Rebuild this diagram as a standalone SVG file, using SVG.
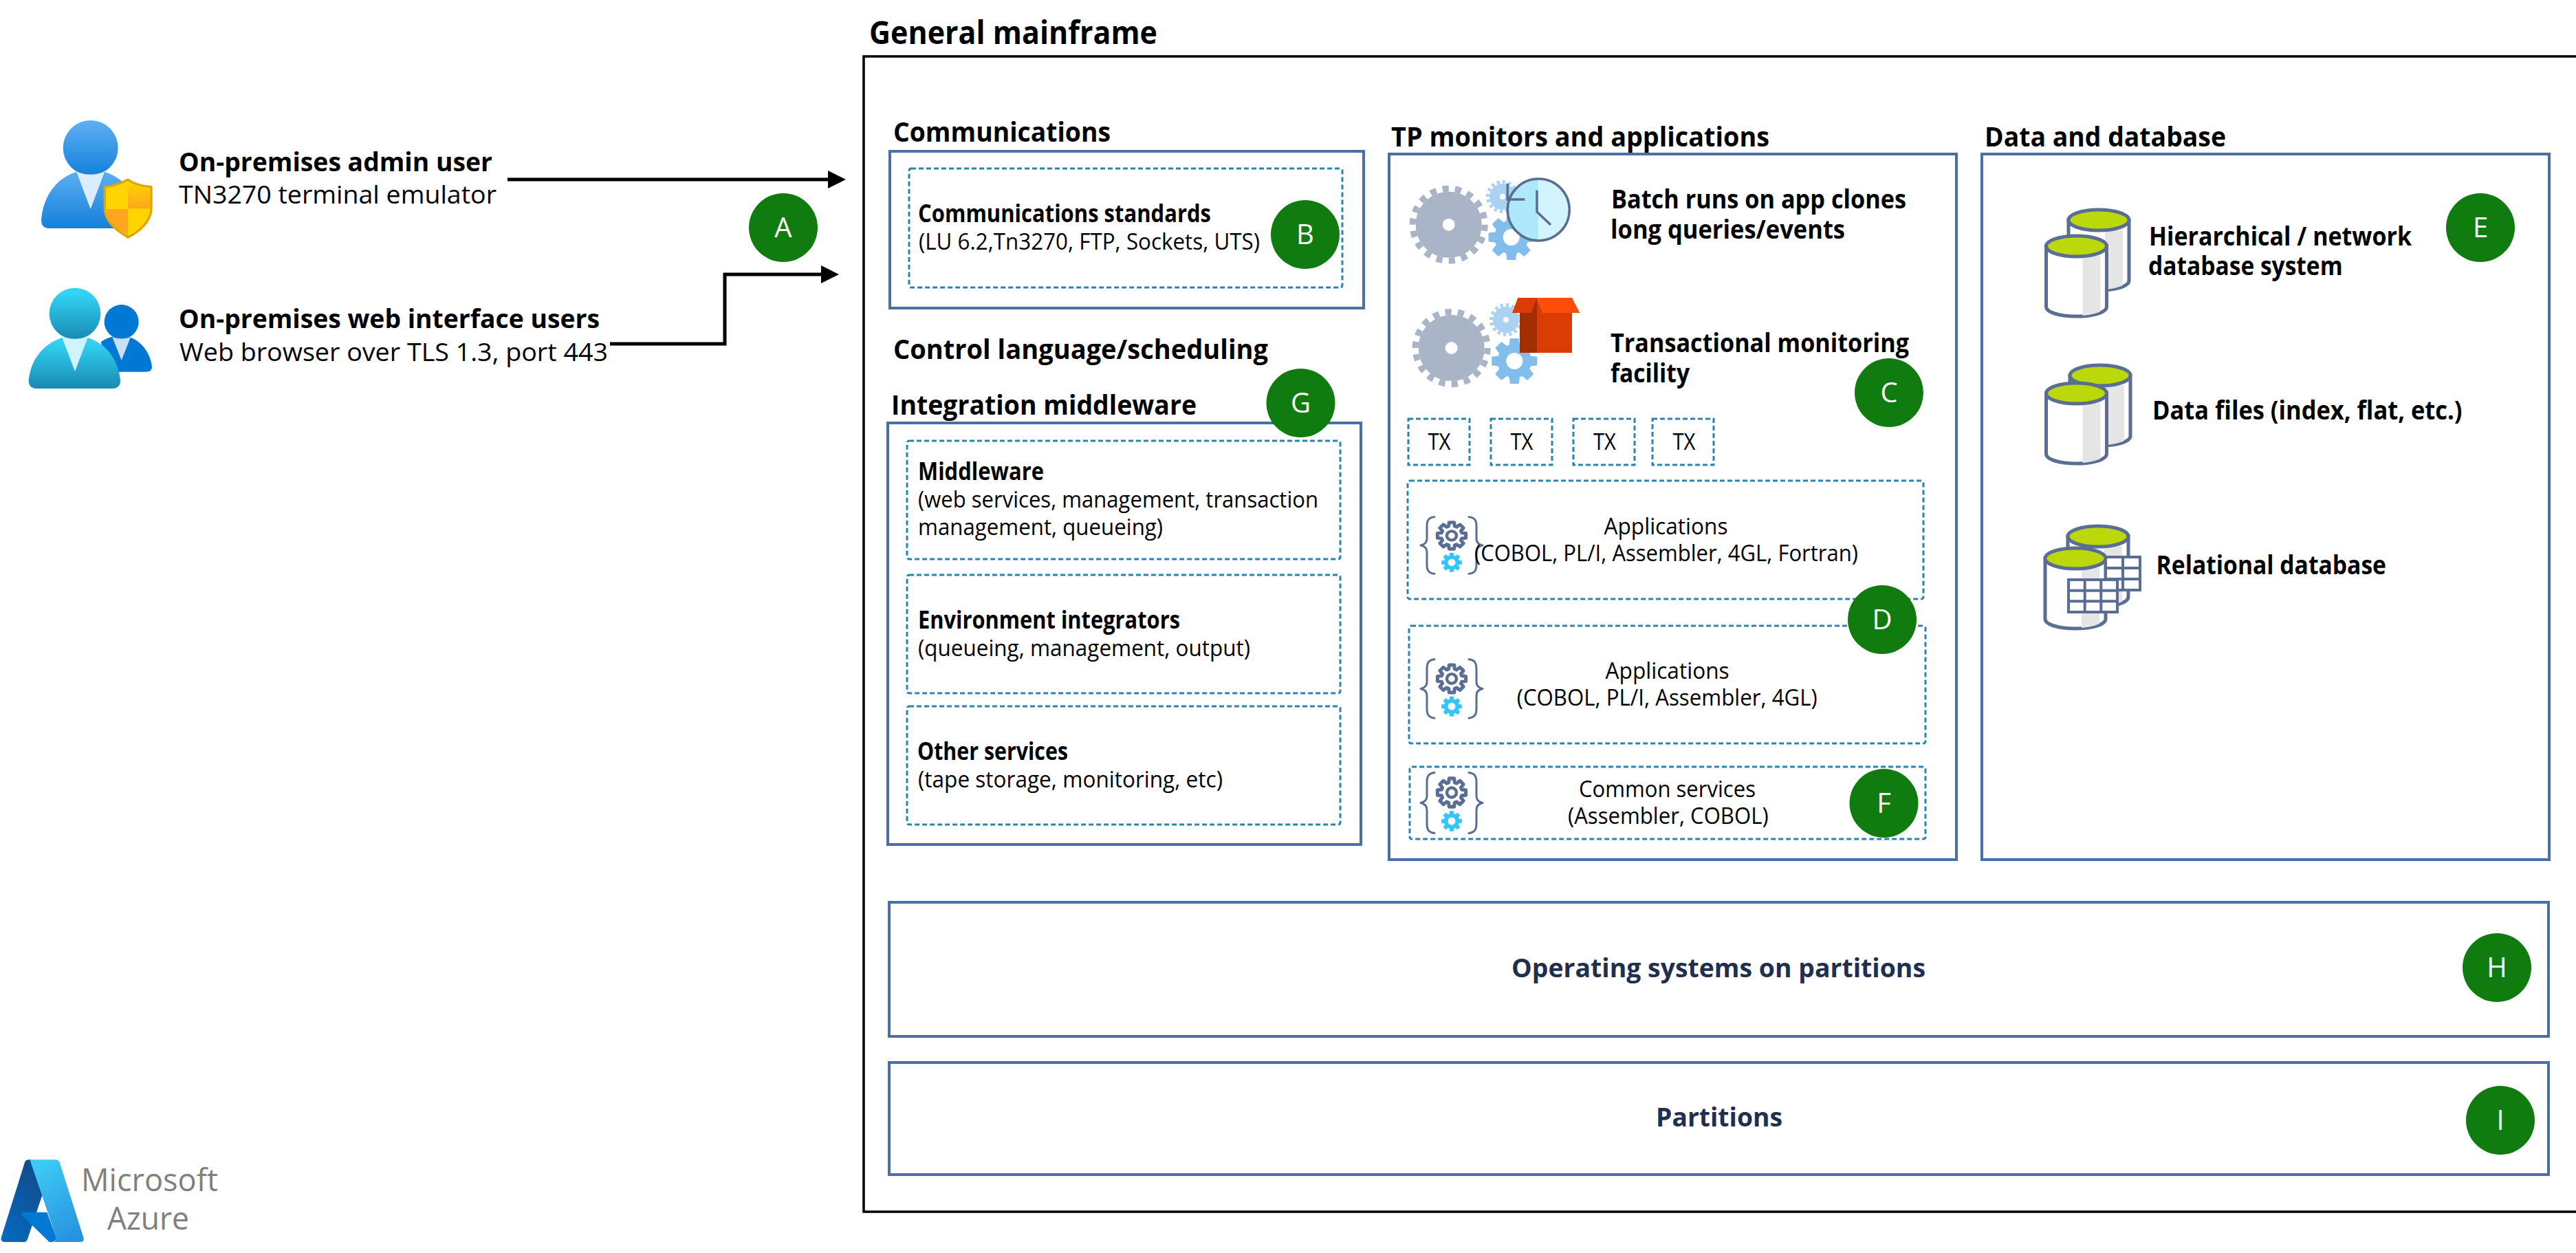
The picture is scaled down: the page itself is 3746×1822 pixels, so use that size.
<svg xmlns="http://www.w3.org/2000/svg" width="3746" height="1822" viewBox="0 0 3746 1822">
<style>
text{font-family:"Open Sans","Noto Sans","Liberation Sans",sans-serif;fill:#000;transform:translate(0,2px)}
#mainframe-area text{transform:translate(0,4px)}
#mainframe-area .bt{font-size:40px;fill:#fff;text-anchor:middle;transform:translate(0,3px)}
.b{font-weight:700}
.h0{font-size:46px}.h1{font-size:40px}.h2{font-size:35px}.h3{font-size:37px}
.r{font-size:33px;font-weight:400}.r2{font-size:37px;font-weight:400}
#mainframe-area .op{font-size:38px;font-weight:700;fill:#1f2f4f}
.box{fill:none;stroke:#4a6fa5;stroke-width:4}
.dot{fill:none;stroke:#2a84b0;stroke-width:3;stroke-dasharray:7 4}
.badge{fill:#107c10}
.cyl{fill:#fff;stroke:#5a6e93;stroke-width:5}
.top{fill:#bad80a;stroke:#5a6e93;stroke-width:5}
.tbl{fill:#fff;stroke:#5a6e93;stroke-width:4}
.conn{fill:none;stroke:#000;stroke-width:5;marker-end:url(#arrow)}
.ms{font-size:45px;fill:#7f7f7f;font-weight:400}
</style>
<defs>
<marker id="arrow" markerUnits="userSpaceOnUse" markerWidth="26" markerHeight="26" refX="0" refY="13" orient="auto"><path d="M0,0L26,13L0,26Z" fill="#000"/></marker>
<linearGradient id="ga" x1="0" y1="0" x2="0" y2="1"><stop offset="0" stop-color="#5eb0f2"/><stop offset="1" stop-color="#1580db"/></linearGradient>
<linearGradient id="gw" x1="0" y1="0" x2="0" y2="1"><stop offset="0.1" stop-color="#32d4f5"/><stop offset="1" stop-color="#198ab3"/></linearGradient>
<linearGradient id="gs" x1="0" y1="0" x2="0" y2="1"><stop offset="0" stop-color="#ffd400"/><stop offset="1" stop-color="#ffa51e"/></linearGradient>
<linearGradient id="az1" x1="0.75" y1="0" x2="0.25" y2="1"><stop offset="0" stop-color="#114a8b"/><stop offset="1" stop-color="#0669bc"/></linearGradient>
<linearGradient id="az2" x1="0.3" y1="0" x2="0.7" y2="1"><stop offset="0" stop-color="#3ccbf4"/><stop offset="1" stop-color="#2892df"/></linearGradient>
<polygon id="cog" points="20.2,3.56 14.4,4.26 13.2,7.16 16.8,11.76 11.76,16.8 7.16,13.2 4.26,14.4 3.56,20.2 -3.56,20.2 -4.26,14.4 -7.16,13.2 -11.76,16.8 -16.8,11.76 -13.2,7.16 -14.4,4.26 -20.2,3.56 -20.2,-3.56 -14.4,-4.26 -13.2,-7.16 -16.8,-11.76 -11.76,-16.8 -7.16,-13.2 -4.26,-14.4 -3.56,-20.2 3.56,-20.2 4.26,-14.4 7.16,-13.2 11.76,-16.8 16.8,-11.76 13.2,-7.16 14.4,-4.26 20.2,-3.56"/>
<g id="gear-big" fill="none" stroke="#a9b5c6">
<circle r="28.5" stroke-width="39"/>
<circle r="52.5" stroke-width="9" pathLength="36" stroke-dasharray="1 1"/>
</g>
<g id="gear-light" fill="none" stroke="#abd2f3">
<circle r="11.5" stroke-width="15"/>
<circle r="21.5" stroke-width="5" pathLength="32" stroke-dasharray="1 1"/>
</g>
<g id="gear-mid">
<use href="#cog" transform="scale(1.6)" fill="#83bdec" stroke="#83bdec" stroke-width="1" stroke-linejoin="round"/>
<circle r="12" fill="#fff"/>
</g>
<g id="app-icon">
<path d="M-25,-44C-34,-43 -36,-38 -36,-30V-10Q-36,-2 -45,0Q-36,2 -36,10V30C-36,38 -34,43 -25,44M25,-44C34,-43 36,-38 36,-30V-10Q36,-2 45,0Q36,2 36,10V30C36,38 34,43 25,44" fill="none" stroke="#5a6e93" stroke-width="3" stroke-linecap="round" stroke-linejoin="round"/>
<use href="#cog" transform="translate(0,-15) scale(1.02)" fill="#fff" stroke="#5a6e93" stroke-width="5" stroke-linejoin="round"/>
<circle cy="-15" r="7" fill="#fff" stroke="#5a6e93" stroke-width="4.5"/>
<use href="#cog" transform="translate(0,26.5) scale(.72)" fill="#32c5f5" stroke="#32c5f5" stroke-linejoin="round"/>
<circle cy="26.5" r="5.5" fill="#fff"/>
</g>
<g id="cyl">
<path class="cyl" d="M-44,0V88C-44,96 -25,102 0,102C25,102 44,96 44,88V0Z"/>
<path d="M9,14H35V95Q24,100 9,101Z" fill="#e5e5e5"/>
<ellipse class="top" rx="44" ry="15"/>
</g>
</defs>
<rect width="3746" height="1822" fill="#fff"/>

<g id="admin-user">
<g transform="translate(0,160) scale(.33333)">
<path d="M180,480C190,340 290,260 395,260C500,260 600,340 610,480Q610,516 575,516H215Q180,516 180,480Z" fill="url(#ga)"/>
<circle cx="395" cy="165" r="120" fill="url(#ga)"/>
<path d="M333,268Q395,295 457,268L395,432Z" fill="#dbedfc"/>
<path d="M457,335Q510,330 558,304Q600,332 660,335V430C660,490 600,535 558,555C515,530 457,490 457,430Z" fill="#ffd400" stroke="#e0a500" stroke-width="10" stroke-linejoin="round"/>
<path d="M558,314Q600,340 653,342V430H558Z" fill="url(#gs)"/>
<path d="M464,432H558V546C515,522 464,490 464,432Z" fill="#ffa51e"/>
</g>
<text x="260" y="247" class="b h3" textLength="456" lengthAdjust="spacingAndGlyphs">On-premises admin user</text>
<text x="260" y="294" class="r2" textLength="462" lengthAdjust="spacingAndGlyphs">TN3270 terminal emulator</text>
</g>
<g id="web-users">
<g transform="translate(0,160) scale(.33333)">
<path d="M440,1012C470,990 500,985 530,985C600,985 655,1050 663,1120Q663,1142 640,1142H480Z" fill="#0078d4"/>
<circle cx="530" cy="924" r="75" fill="#0078d4"/>
<path d="M490,990Q530,1005 570,990L530,1092Z" fill="#c8e0f6"/>
<path d="M125,1180C135,1060 230,985 327,985C425,985 515,1060 525,1180Q525,1215 490,1215H160Q125,1215 125,1180Z" fill="url(#gw)"/>
<circle cx="327" cy="888" r="112" fill="url(#gw)"/>
<path d="M268,985Q327,1012 386,985L327,1140Z" fill="#d0f4fe"/>
</g>
<text x="260" y="475" class="b h3" textLength="612" lengthAdjust="spacingAndGlyphs">On-premises web interface users</text>
<text x="261" y="523" class="r2" textLength="623" lengthAdjust="spacingAndGlyphs">Web browser over TLS 1.3, port 443</text>
</g>

<g id="connectors">
<path class="conn" d="M738,261H1204"/>
<path class="conn" d="M887,500H1054V399H1194"/>
</g>

<g id="mainframe-area">
<g id="general-mainframe">
<rect x="1256" y="82" width="2500" height="1680" fill="none" stroke="#000" stroke-width="3.5"/>
<text x="1264" y="60" class="b h0" textLength="419" lengthAdjust="spacingAndGlyphs">General mainframe</text>
</g>

<g id="communications">
<text x="1299" y="202" class="b h1" textLength="316" lengthAdjust="spacingAndGlyphs">Communications</text>
<rect class="box" x="1294" y="220" width="689" height="228"/>
<rect class="dot" x="1322" y="245" width="630" height="173" rx="3"/>
<text x="1335" y="319" class="b h2" textLength="426" lengthAdjust="spacingAndGlyphs">Communications standards</text>
<text x="1336" y="359" class="r" textLength="496" lengthAdjust="spacingAndGlyphs">(LU 6.2,Tn3270, FTP, Sockets, UTS)</text>
</g>

<g id="control-language">
<text x="1299" y="518" class="b h1" textLength="545" lengthAdjust="spacingAndGlyphs">Control language/scheduling</text>
</g>

<g id="integration-middleware">
<text x="1296" y="599" class="b h1" textLength="444" lengthAdjust="spacingAndGlyphs">Integration middleware</text>
<rect class="box" x="1291" y="615" width="688" height="613"/>
<rect class="dot" x="1319" y="641" width="630" height="172" rx="3"/>
<text x="1335" y="694" class="b h2" textLength="183" lengthAdjust="spacingAndGlyphs">Middleware</text>
<text x="1335" y="734" class="r" textLength="582" lengthAdjust="spacingAndGlyphs">(web services, management, transaction</text>
<text x="1335" y="774" class="r" textLength="356" lengthAdjust="spacingAndGlyphs">management, queueing)</text>
<rect class="dot" x="1319" y="836" width="630" height="172" rx="3"/>
<text x="1335" y="910" class="b h2" textLength="381" lengthAdjust="spacingAndGlyphs">Environment integrators</text>
<text x="1335" y="950" class="r" textLength="483" lengthAdjust="spacingAndGlyphs">(queueing, management, output)</text>
<rect class="dot" x="1319" y="1027" width="630" height="172" rx="3"/>
<text x="1334" y="1101" class="b h2" textLength="219" lengthAdjust="spacingAndGlyphs">Other services</text>
<text x="1335" y="1141" class="r" textLength="443" lengthAdjust="spacingAndGlyphs">(tape storage, monitoring, etc)</text>
</g>

<g id="tp-monitors">
<text x="2023" y="209" class="b h1" textLength="550" lengthAdjust="spacingAndGlyphs">TP monitors and applications</text>
<rect class="box" x="2020" y="224" width="825" height="1026"/>
</g>
<g id="batch-runs">
<use href="#gear-big" x="2106.7" y="326.7"/>
<use href="#gear-light" x="2185" y="286"/>
<use href="#gear-mid" x="2197.7" y="345"/>
<path d="M2237.3,260A45,45 0 0 0 2237.3,350Z" fill="#ade8fb"/>
<path d="M2237.3,260A45,45 0 0 1 2237.3,350Z" fill="#d4f4fd"/>
<circle cx="2237.3" cy="305" r="45" fill="none" stroke="#5a6e93" stroke-width="3.5"/>
<path d="M2235,276.7V308L2255,327M2192.3,266.7V290H2217.3" fill="none" stroke="#5a6e93" stroke-width="3.5"/>
<text x="2343" y="299" class="b h3" textLength="429" lengthAdjust="spacingAndGlyphs">Batch runs on app clones</text>
<text x="2342" y="343" class="b h3" textLength="341" lengthAdjust="spacingAndGlyphs">long queries/events</text>
</g>
<g id="transactional-monitoring">
<use href="#gear-big" x="2110.7" y="506"/>
<use href="#gear-light" x="2190" y="465"/>
<use href="#gear-mid" x="2202.3" y="525"/>
<rect x="2210" y="455" width="25" height="58" fill="#a32e00"/>
<rect x="2235" y="455" width="51" height="58" fill="#db3c03"/>
<path d="M2207.3,433H2235V455H2199Z" fill="#db3c03"/>
<path d="M2235,433L2226.7,455H2235Z" fill="#a32e00"/>
<path d="M2235,433H2286L2297.3,455H2244Z" fill="#ff4d0a"/>
<path d="M2235,433L2244,455H2235Z" fill="#db3c03"/>
<text x="2342" y="508" class="b h3" textLength="434" lengthAdjust="spacingAndGlyphs">Transactional monitoring</text>
<text x="2342" y="552" class="b h3" textLength="115" lengthAdjust="spacingAndGlyphs">facility</text>
</g>
<g id="tx-1"><rect class="dot" x="2048" y="609" width="89" height="67"/><text x="2076.5" y="650" class="r" textLength="33" lengthAdjust="spacingAndGlyphs">TX</text></g>
<g id="tx-2"><rect class="dot" x="2168" y="609" width="89" height="67"/><text x="2196.5" y="650" class="r" textLength="33" lengthAdjust="spacingAndGlyphs">TX</text></g>
<g id="tx-3"><rect class="dot" x="2288" y="609" width="89" height="67"/><text x="2317" y="650" class="r" textLength="33" lengthAdjust="spacingAndGlyphs">TX</text></g>
<g id="tx-4"><rect class="dot" x="2403" y="609" width="89" height="67"/><text x="2432.5" y="650" class="r" textLength="33" lengthAdjust="spacingAndGlyphs">TX</text></g>
<g id="applications-1">
<rect class="dot" x="2047" y="699" width="750" height="172" rx="3"/>
<use href="#app-icon" transform="translate(2111,793) scale(1,.94)"/>
<text x="2332.5" y="772.5" class="r" textLength="180" lengthAdjust="spacingAndGlyphs">Applications</text>
<text x="2144" y="812" class="r" textLength="558" lengthAdjust="spacingAndGlyphs">(COBOL, PL/I, Assembler, 4GL, Fortran)</text>
</g>
<g id="applications-2">
<rect class="dot" x="2049" y="910" width="751" height="171" rx="3"/>
<use href="#app-icon" transform="translate(2111,1001.5) scale(1,.97)"/>
<text x="2334.6" y="983" class="r" textLength="180" lengthAdjust="spacingAndGlyphs">Applications</text>
<text x="2205.7" y="1022.4" class="r" textLength="437" lengthAdjust="spacingAndGlyphs">(COBOL, PL/I, Assembler, 4GL)</text>
</g>
<g id="common-services">
<rect class="dot" x="2050" y="1115" width="750" height="105" rx="3"/>
<use href="#app-icon" transform="translate(2111,1167.5)"/>
<text x="2296" y="1154.5" class="r" textLength="257" lengthAdjust="spacingAndGlyphs">Common services</text>
<text x="2280" y="1194" class="r" textLength="291.6" lengthAdjust="spacingAndGlyphs">(Assembler, COBOL)</text>
</g>

<g id="data-database">
<text x="2886" y="209" class="b h1" textLength="351" lengthAdjust="spacingAndGlyphs">Data and database</text>
<rect class="box" x="2882" y="224" width="825" height="1026"/>
</g>
<g id="hierarchical-db">
<use href="#cyl" x="3052" y="320"/>
<use href="#cyl" x="3019.5" y="358"/>
<text x="3125" y="352.5" class="b h3" textLength="382" lengthAdjust="spacingAndGlyphs">Hierarchical / network</text>
<text x="3124" y="395.7" class="b h3" textLength="282.6" lengthAdjust="spacingAndGlyphs">database system</text>
</g>
<g id="data-files">
<use href="#cyl" x="3054" y="546"/>
<use href="#cyl" x="3019.5" y="572"/>
<text x="3130" y="606" class="b h3" textLength="450.5" lengthAdjust="spacingAndGlyphs">Data files (index, flat, etc.)</text>
</g>
<g id="relational-db">
<use href="#cyl" x="3051" y="780"/>
<use href="#cyl" x="3018" y="812"/>
<path class="tbl" d="M3062,810H3112V858H3062ZM3087,810V858M3062,826H3112M3062,842H3112"/>
<path class="tbl" d="M3008,843H3079V890H3008ZM3031.7,843V890M3055.3,843V890M3008,858.7H3079M3008,874.3H3079"/>
<text x="3135.6" y="831" class="b h3" textLength="334.4" lengthAdjust="spacingAndGlyphs">Relational database</text>
</g>

<g id="operating-systems">
<rect class="box" x="1293" y="1312" width="2413" height="195"/>
<text x="2198" y="1417" class="op" textLength="602" lengthAdjust="spacingAndGlyphs">Operating systems on partitions</text>
</g>
<g id="partitions">
<rect class="box" x="1293" y="1545" width="2413" height="163"/>
<text x="2408" y="1634" class="op" textLength="184" lengthAdjust="spacingAndGlyphs">Partitions</text>
</g>

<g id="badge-a"><circle class="badge" cx="1139" cy="331" r="50"/><text class="bt" x="1139" y="342">A</text></g>
<g id="badge-b"><circle class="badge" cx="1898" cy="341" r="50"/><text class="bt" x="1898" y="352">B</text></g>
<g id="badge-c"><circle class="badge" cx="2747" cy="571" r="50"/><text class="bt" x="2747" y="582">C</text></g>
<g id="badge-d"><circle class="badge" cx="2737" cy="901" r="50"/><text class="bt" x="2737" y="912">D</text></g>
<g id="badge-e"><circle class="badge" cx="3607" cy="331" r="50"/><text class="bt" x="3607" y="342">E</text></g>
<g id="badge-f"><circle class="badge" cx="2739.5" cy="1168" r="50"/><text class="bt" x="2739.5" y="1179">F</text></g>
<g id="badge-g"><circle class="badge" cx="1891.5" cy="586" r="50"/><text class="bt" x="1891.5" y="597">G</text></g>
<g id="badge-h"><circle class="badge" cx="3631" cy="1407" r="50"/><text class="bt" x="3631" y="1418">H</text></g>
<g id="badge-i"><circle class="badge" cx="3636" cy="1629" r="50"/><text class="bt" x="3636" y="1640">I</text></g>
</g>

<g id="azure-logo" transform="translate(0,2)">
<g transform="translate(0,1640) scale(.33333)">
<path d="M108,145Q112,133 125,133H135L185,285L120,480Q116,492 105,492H20Q0,490 6,470Z" fill="url(#az1)"/>
<path d="M100,362H205L245,470Q245,492 225,492H215L97,377Q90,365 100,362Z" fill="#0078d4"/>
<path d="M130,133H245Q258,135 262,150L365,475Q367,492 350,492H235Q247,485 243,465Z" fill="url(#az2)"/>
</g>
<text class="ms" x="118" y="1728" textLength="199" lengthAdjust="spacingAndGlyphs">Microsoft</text>
<text class="ms" x="156" y="1784" textLength="119" lengthAdjust="spacingAndGlyphs">Azure</text>
</g>
</svg>
